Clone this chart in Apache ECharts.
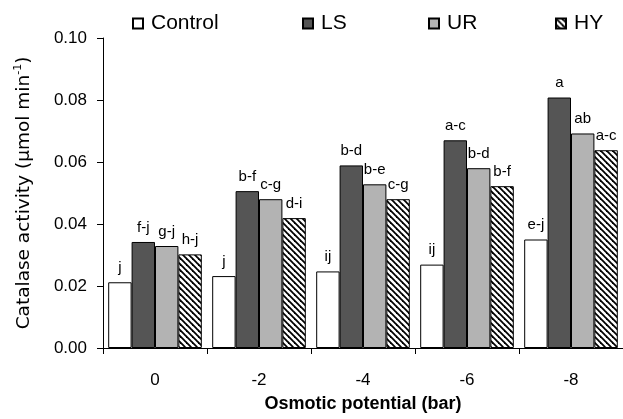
<!DOCTYPE html>
<html>
<head>
<meta charset="utf-8">
<script src="https://cdn.jsdelivr.net/npm/echarts@6/dist/echarts.min.js"></script>
<style>
  html, body { margin: 0; padding: 0; background: #fff; }
  #chart { width: 623px; height: 419px; }
</style>
</head>
<body>
<div id="chart"></div>
<script>
'use strict';
// osmotic potential (bar)
var categories = ['0', '-2', '-4', '-6', '-8'];
var yTicks = [0, 0.02, 0.04, 0.06, 0.08, 0.10];

// catalase activity
var control = [0.0212, 0.0232, 0.0247, 0.0269, 0.0350];
var ls      = [0.0342, 0.0506, 0.0589, 0.0670, 0.0808];
var ur      = [0.0329, 0.0480, 0.0528, 0.0580, 0.0692];
var hy      = [0.0302, 0.0419, 0.0480, 0.0522, 0.0638];

// letters over bars
var controlLetters = ['j', 'j', 'ij', 'ij', 'e-j'];
var lsLetters      = ['f-j', 'b-f', 'b-d', 'a-c', 'a'];
var urLetters      = ['g-j', 'c-g', 'b-e', 'b-d', 'ab'];
var hyLetters      = ['h-j', 'd-i', 'c-g', 'b-f', 'a-c'];

//斜线填充
function hatch() {
    var c = document.createElement('canvas');
    c.width = 6; c.height = 6;
    var ctx = c.getContext('2d');
    ctx.fillStyle = '#fff';
    ctx.fillRect(0, 0, 6, 6);
    ctx.strokeStyle = '#000';
    ctx.lineWidth = 1.8;
    [-6, 0, 6].forEach(function (x0) {
        ctx.beginPath();
        ctx.moveTo(x0 - 1, -1);
        ctx.lineTo(x0 + 7, 7);
        ctx.stroke();
    });
    return { image: c, repeat: 'repeat' };
}

function barSeries(name, data, letters, fill) {
    return {
        name: name,
        type: 'bar',
        data: data,
        barGap: 0,
        barCategoryGap: '10%',
        itemStyle: { color: fill, borderColor: '#000', borderWidth: 1 },
        label: {
            show: true,
            position: 'top',
            distance: 7,
            color: '#000',
            fontFamily: 'Arial',
            fontSize: 15,
            formatter: function (p) { return letters[p.dataIndex]; }
        }
    };
}

function legendAt(name, left) {
    return {
        data: [{ name: name, icon: 'rect' }],
        left: left,
        top: 8,
        itemWidth: 10,
        itemHeight: 10,
        itemGap: 0,
        textStyle: { fontFamily: 'Arial', fontSize: 21, color: '#000', padding: [0, 0, 0, 3] }
    };
}

var chart = echarts.init(document.getElementById('chart'));
var option = {
    backgroundColor: '#fff',
    animation: false,
    legend: [
        legendAt('Control', 127),
        legendAt('LS', 297),
        legendAt('UR', 423),
        legendAt('HY', 550)
    ],
    grid: { left: 103, top: 38, width: 525, height: 310 },
    xAxis: {
        type: 'category',
        data: categories,
        axisLine: { lineStyle: { color: '#000', width: 1 } },
        axisTick: { show: true, length: 6, lineStyle: { color: '#000' } },
        axisLabel: { color: '#000', fontFamily: 'Arial', fontSize: 17, margin: 24 },
        name: 'Osmotic potential (bar)',
        nameLocation: 'middle',
        nameGap: 47,
        nameTextStyle: { color: '#000', fontFamily: 'Arial', fontWeight: 'bold', fontSize: 18 }
    },
    yAxis: {
        type: 'value',
        min: yTicks[0],
        max: yTicks[yTicks.length - 1],
        interval: 0.02,
        axisLine: { show: true, lineStyle: { color: '#000', width: 1 } },
        axisTick: { show: true, length: 6, lineStyle: { color: '#000' } },
        splitLine: { show: false },
        axisLabel: {
            color: '#000', fontFamily: 'Arial', fontSize: 17, margin: 16,
            formatter: function (v) { return v.toFixed(2); }
        },
        name: '{a|Catalase activity (µmol min}{s|-1}{a|)}',
        nameLocation: 'middle',
        nameRotate: 90,
        nameGap: 68,
        nameTextStyle: {
            rich: {
                a: { fontFamily: 'DejaVu Sans', fontSize: 18.5, color: '#000', lineHeight: 22 },
                s: { fontFamily: 'DejaVu Sans', fontSize: 11, color: '#000', verticalAlign: 'top', lineHeight: 22 }
            }
        }
    },
    series: [
        barSeries('Control', control, controlLetters, '#fff'),
        barSeries('LS', ls, lsLetters, '#555'),
        barSeries('UR', ur, urLetters, '#b3b3b3'),
        barSeries('HY', hy, hyLetters, hatch())
    ]
};
chart.setOption(option);
window.onresize = chart.resize;
</script>
</body>
</html>
